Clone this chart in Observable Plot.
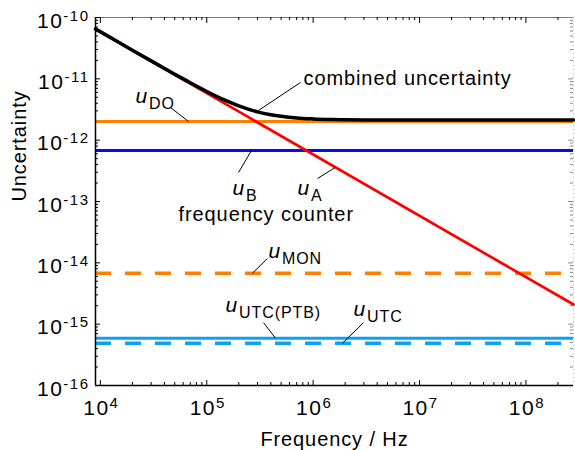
<!DOCTYPE html>
<html><head><meta charset="utf-8">
<script src="https://cdn.jsdelivr.net/npm/d3@7"></script>
<script src="https://cdn.jsdelivr.net/npm/@observablehq/plot@0.6"></script>
<style>body{margin:0;background:#fff}</style>
</head><body><div id="chart"></div>
<script>
// ---- data ----
const freqDomain = [9e3, 2.8e8];
const uDomain = [1e-16, 1e-10];

const uDO = 2.02e-12;
const uB = 6.78e-13;
const uMON = 6.78e-15;
const uUTCPTB = 5.9e-16;
const uUTC = 4.89e-16;

const uAFreq = [9e3, 2.8e8];
const uAValues = [6.5e-11, 2.09e-15];

const combinedFreq = [9e3, 1.5e4, 2e4, 3e4, 5e4, 7e4, 1e5, 1.5e5, 2e5, 3e5, 4e5, 5e5, 7e5, 1e6, 1.5e6, 2e6, 3e6, 5e6, 1e7, 1e8, 2.8e8];
const combinedValues = [6.503e-11, 3.906e-11, 2.933e-11, 1.962e-11, 1.189e-11, 8.62e-12, 6.22e-12, 4.44e-12, 3.62e-12, 2.89e-12, 2.6e-12, 2.45e-12, 2.3e-12, 2.22e-12, 2.17e-12, 2.15e-12, 2.14e-12, 2.135e-12, 2.13e-12, 2.13e-12, 2.13e-12];

const xTicks = [1e4, 1e5, 1e6, 1e7, 1e8];
const xTickLabels = ["10^4", "10^5", "10^6", "10^7", "10^8"];
const yTicks = [1e-16, 1e-15, 1e-14, 1e-13, 1e-12, 1e-11, 1e-10];
const yTickLabels = ["10^-16", "10^-15", "10^-14", "10^-13", "10^-12", "10^-11", "10^-10"];

const xTitle = "Frequency / Hz";
const yTitle = "Uncertainty";

// annotations (anchored in data coordinates)
const labels = [
  {text: "combined uncertainty", f: 8.12e5, u: 8.08e-12},
  {text: "u_DO", f: 2.14e4, u: 4.11e-12},
  {text: "u_B", f: 1.745e5, u: 1.30e-13},
  {text: "u_A", f: 7.13e5, u: 1.30e-13},
  {text: "frequency counter", f: 5.43e4, u: 4.90e-14},
  {text: "u_MON", f: 3.80e5, u: 1.22e-14},
  {text: "u_UTC(PTB)", f: 1.50e5, u: 1.55e-15},
  {text: "u_UTC", f: 2.39e6, u: 1.38e-15}
];
const leaders = [
  {f1: 3.06e5, u1: 3.05e-12, f2: 7.61e5, u2: 8.71e-12},
  {f1: 4.56e4, u1: 3.41e-12, f2: 6.73e4, u2: uDO},
  {f1: 1.99e5, u1: 2.97e-13, f2: 2.63e5, u2: uB},
  {f1: 1.10e6, u1: 2.37e-13, f2: 1.62e6, u2: 3.61e-13},
  {f1: 3.72e5, u1: 1.18e-14, f2: 2.69e5, u2: uMON},
  {f1: 3.42e5, u1: 1.06e-15, f2: 4.43e5, u2: uUTCPTB},
  {f1: 2.97e6, u1: 1.06e-15, f2: 1.89e6, u2: uUTC}
];

// ---- layout ----
const W = 575, H = 450;
const mL = 95, mR = 2, mT = 17, mB = 65;
const innerH = H - mT - mB, innerW = W - mL - mR;

const orange = "#ff8000", blue = "#0a0af0", red = "#ff0000", lightBlue = "#0aa0f8";

const xMinor = [], yMinor = [];
for (let e = 3; e <= 8; e++) for (let k = 2; k <= 9; k++) {
  const v = k * 10 ** e;
  if (v > freqDomain[0] && v < freqDomain[1]) xMinor.push(v);
}
for (let e = -16; e <= -11; e++) for (let k = 2; k <= 9; k++) yMinor.push(k * 10 ** e);

const uAData = uAFreq.map((f, i) => ({f, u: uAValues[i]}));
const combData = combinedFreq.map((f, i) => ({f, u: combinedValues[i]}));

const tickStyle = {stroke: "black", strokeWidth: 1};

const plot = Plot.plot({
  width: W, height: H,
  marginLeft: mL, marginRight: mR, marginTop: mT, marginBottom: mB,
  style: {fontFamily: "'Liberation Sans', Arial, sans-serif", fontSize: "20px", background: "white", overflow: "visible"},
  x: {type: "log", domain: freqDomain, axis: null},
  y: {type: "log", domain: uDomain, axis: null},
  marks: [
    // frame
    Plot.ruleY([uDomain[1]], {stroke: "#777", strokeWidth: 1}),
    Plot.ruleX([freqDomain[1]], {stroke: "#bbb", strokeWidth: 1, strokeDasharray: "1,3"}),
    // ticks (inward, all four sides)
    Plot.ruleX(xTicks, {...tickStyle, insetTop: innerH - 5}),
    Plot.ruleX(xMinor, {...tickStyle, insetTop: innerH - 3}),
    Plot.ruleX(xTicks, {...tickStyle, insetBottom: innerH - 6}),
    Plot.ruleX(xMinor, {...tickStyle, insetBottom: innerH - 3}),
    Plot.ruleY(yTicks, {...tickStyle, insetRight: innerW - 5}),
    Plot.ruleY(yMinor, {...tickStyle, insetRight: innerW - 3}),
    Plot.ruleY(yTicks, {...tickStyle, insetLeft: innerW - 5, stroke: "#888"}),
    Plot.ruleY(yMinor, {...tickStyle, insetLeft: innerW - 3, stroke: "#888"}),
    // component lines
    Plot.ruleY([uDO], {stroke: orange, strokeWidth: 3}),
    Plot.ruleY([uB], {stroke: blue, strokeWidth: 3}),
    Plot.ruleY([uMON], {stroke: orange, strokeWidth: 3.5, strokeDasharray: "16,14"}),
    Plot.ruleY([uUTCPTB], {stroke: lightBlue, strokeWidth: 3}),
    Plot.ruleY([uUTC], {stroke: lightBlue, strokeWidth: 3.5, strokeDasharray: "16,14"}),
    Plot.line(uAData, {x: "f", y: "u", stroke: red, strokeWidth: 2.7}),
    Plot.line(combData, {x: "f", y: "u", stroke: "black", strokeWidth: 3.5, curve: "monotone-x"}),
    // axes lines
    Plot.ruleX([freqDomain[0]], {stroke: "black", strokeWidth: 1.5}),
    Plot.ruleY([uDomain[0]], {stroke: "black", strokeWidth: 1.5}),
    // leaders
    Plot.link(leaders, {x1: "f1", y1: "u1", x2: "f2", y2: "u2", stroke: "black", strokeWidth: 1}),
    // annotation texts
    Plot.text(labels, {x: "f", y: "u", text: "text", textAnchor: "start", lineAnchor: "bottom", fontSize: 20, fill: "black"}),
    // tick labels
    Plot.text(xTicks, {x: d => d, text: (d, i) => xTickLabels[i], frameAnchor: "bottom", lineAnchor: "bottom", dy: 29, dx: 1, fontSize: 21}),
    Plot.text(yTicks, {y: d => d, text: (d, i) => yTickLabels[i], frameAnchor: "left", textAnchor: "end", lineAnchor: "bottom", dx: -6, dy: 10, fontSize: 21}),
    // axis titles
    Plot.text([xTitle], {text: d => d, frameAnchor: "bottom", lineAnchor: "bottom", dy: 60, fontSize: 20}),
    Plot.text([yTitle], {text: d => d, frameAnchor: "left", rotate: -90, lineAnchor: "middle", dx: -76, fontSize: 20})
  ]
});

plot.style.letterSpacing = "0.9px";
const NS = "http://www.w3.org/2000/svg";
function tspan(txt, attrs) {
  const s = document.createElementNS(NS, "tspan");
  for (const k in attrs) s.setAttribute(k, attrs[k]);
  s.textContent = txt;
  return s;
}
plot.querySelectorAll("text").forEach(t => {
  const s = t.textContent;
  if (s.includes("^")) {
    const [b, e] = s.split("^");
    t.textContent = "";
    t.style.letterSpacing = "1.5px";
    t.appendChild(tspan(b, {}));
    t.appendChild(tspan(e, {dy: "-7", "font-size": "15"}));
  } else if (s.includes("_")) {
    const [a, b] = s.split("_");
    t.textContent = "";
    t.appendChild(tspan(a, {"font-style": "italic", "font-size": "21"}));
    t.appendChild(tspan(b, {dy: "6", "font-size": "16", dx: "1"}));
  }
});
document.getElementById("chart").appendChild(plot);
</script>
</body></html>
